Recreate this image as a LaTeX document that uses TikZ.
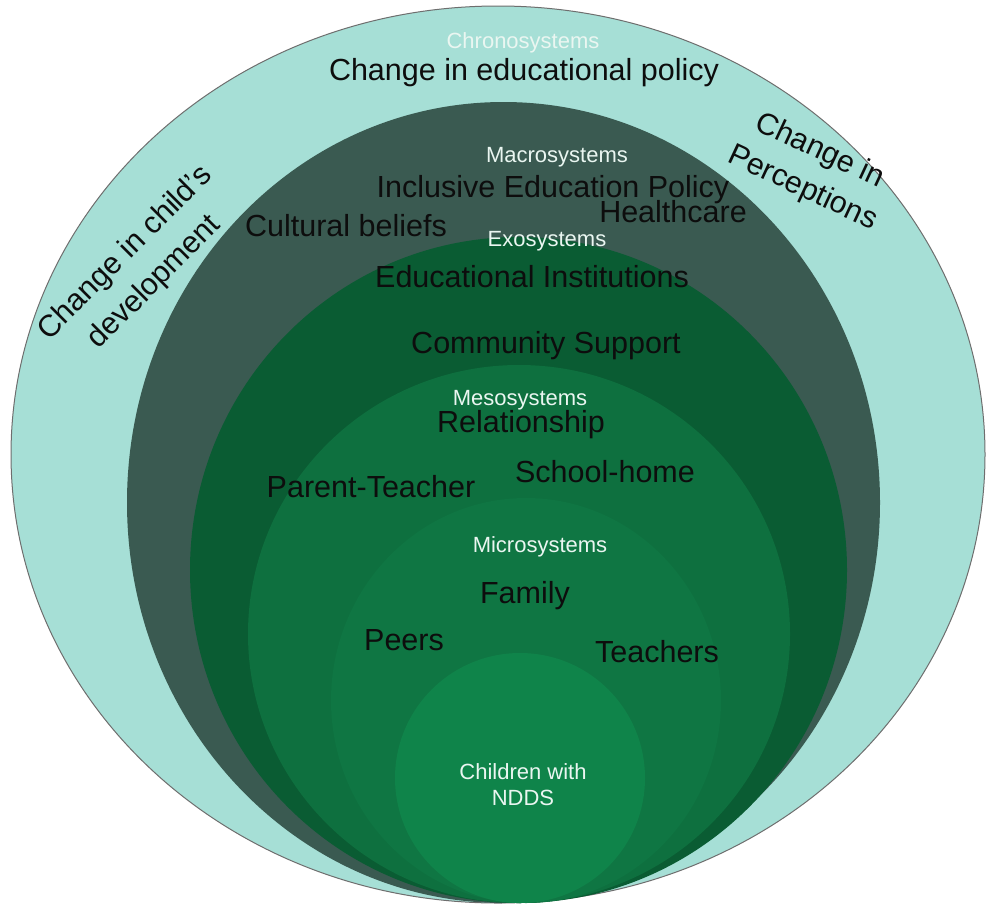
\documentclass[tikz,border=0pt]{standalone}
\usepackage{fontspec}
\setmainfont{Liberation Sans}

% layer colours, outermost to innermost
\definecolor{chrono}{HTML}{A6DFD6}
\definecolor{macro}{HTML}{3A5A51}
\definecolor{exo}{HTML}{0A5C33}
\definecolor{meso}{HTML}{0E703F}
\definecolor{micro}{HTML}{0F7643}
\definecolor{core}{HTML}{0F844A}
\definecolor{rim}{HTML}{6E6E6E}
\definecolor{ink}{HTML}{0D0D0D}
\definecolor{paletext}{HTML}{EAF6F1}

\begin{document}
\begin{tikzpicture}[x=1pt,y=-1pt,
  item/.style={text=ink, font=\fontsize{30.5}{38}\selectfont, inner sep=0pt, anchor=base},
  tier/.style={text=paletext, font=\fontsize{22}{26}\selectfont, inner sep=0pt, anchor=base},
  drift/.style={text=ink, font=\fontsize{30.5}{41}\selectfont, inner sep=0pt, align=center}]

\path[use as bounding box, fill=white] (0,0) rectangle (987,905);

% nested systems, all resting on the same bottom point
\filldraw[fill=chrono, draw=rim, line width=1pt] (498,454.5) ellipse [x radius=487, y radius=448.5];
\fill[macro] (503.5,502.5) ellipse [x radius=376.5, y radius=400.5];
\fill[exo]   (518.5,570)   ellipse [x radius=328.5, y radius=333];
\fill[meso]  (519,634)     ellipse [x radius=271,   y radius=269];
\fill[micro] (526,700.5)   ellipse [x radius=195,   y radius=202.5];
\fill[core]  (520,778)     ellipse [x radius=125,   y radius=125];

% chronosystem
\node[tier] (chrono) at (523,48) {Chronosystems};
\node[item] (policychange) at (524,80) {Change in educational policy};
\node[drift, rotate=45] (childdev) at (140,268) {Change in child's\\development};
\node[drift, rotate=-25] (perceptions) at (811,170) {Change in\\Perceptions};

% macrosystem
\node[tier] (macro) at (557,162) {Macrosystems};
\node[item] (inclusive) at (553,197) {Inclusive Education Policy};
\node[item] (health) at (673,222) {Healthcare};
\node[item] (culture) at (346,236) {Cultural beliefs};

% exosystem
\node[tier] (exo) at (547,246) {Exosystems};
\node[item] (institutions) at (532,287) {Educational Institutions};
\node[item] (community) at (546,353) {Community Support};

% mesosystem
\node[tier] (meso) at (520,405) {Mesosystems};
\node[item] (relation) at (521,432) {Relationship};
\node[item] (parentteacher) at (371,497) {Parent-Teacher};
\node[item] (schoolhome) at (605,482) {School-home};

% microsystem
\node[tier] (micro) at (540,552) {Microsystems};
\node[item] (family) at (525,603) {Family};
\node[item] (peers) at (404,650) {Peers};
\node[item] (teachers) at (657,662) {Teachers};

% the child at the centre
\node[text=paletext, font=\fontsize{22}{26}\selectfont, inner sep=0pt, align=center]
  (child) at (523,785) {Children with\\NDDS};

\end{tikzpicture}
\end{document}
